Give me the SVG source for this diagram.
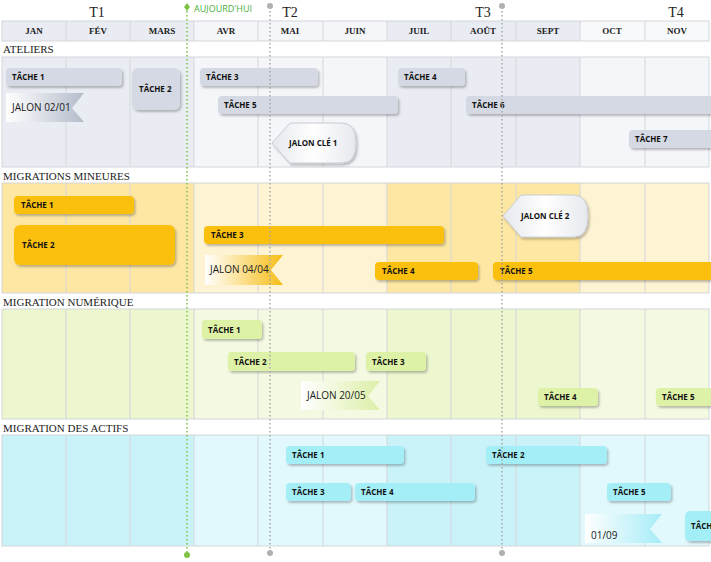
<svg xmlns="http://www.w3.org/2000/svg" width="711" height="562" viewBox="0 0 711 562">
<defs>
<filter id="sh" x="-10%" y="-20%" width="130%" height="160%"><feDropShadow dx="1.5" dy="2" stdDeviation="1.2" flood-color="#000" flood-opacity="0.25"/></filter>
<linearGradient id="gA" x1="0" x2="1"><stop offset="0" stop-color="#fff"/><stop offset="1" stop-color="#b4bccb"/></linearGradient>
<linearGradient id="gM" x1="0" x2="1"><stop offset="0" stop-color="#fff"/><stop offset="1" stop-color="#f6bd16"/></linearGradient>
<linearGradient id="gN" x1="0" x2="1"><stop offset="0" stop-color="#fff"/><stop offset="1" stop-color="#dcefa8"/></linearGradient>
<linearGradient id="gC" x1="0" x2="1"><stop offset="0" stop-color="#fff"/><stop offset="1" stop-color="#a6ecf7"/></linearGradient>
<linearGradient id="gK" x1="0" x2="1"><stop offset="0" stop-color="#e6e8ee"/><stop offset="0.5" stop-color="#fff"/><stop offset="1" stop-color="#e6e8ee"/></linearGradient>
</defs>
<style>
.q{font-family:"Liberation Serif",serif;font-size:14px;fill:#222}
.m{font-family:"Liberation Serif",serif;font-size:9px;font-weight:bold;fill:#222}
.l{font-family:"Liberation Serif",serif;font-size:11px;fill:#222}
.t{font-family:"Open Sans",sans-serif;font-size:8px;font-weight:bold;fill:#111}
.j{font-family:"Open Sans",sans-serif;font-size:10px;fill:#222}
.g{stroke:#d4d6da;stroke-width:1}
.a{fill:#d5d9e3}.mm{fill:#fbbf0a}.n{fill:#ddf2a6}.c{fill:#a4eef8}
</style>
<rect width="711" height="562" fill="#fff"/>
<g id="header">
<text class="q" x="97" y="17" text-anchor="middle">T1</text>
<text class="q" x="290" y="17" text-anchor="middle">T2</text>
<text class="q" x="483" y="17" text-anchor="middle">T3</text>
<text class="q" x="676" y="17" text-anchor="middle">T4</text>
<rect x="2" y="21" width="192" height="20" fill="#e9ecf3"/>
<rect x="194" y="21" width="193" height="20" fill="#f5f6fa"/>
<rect x="387" y="21" width="193" height="20" fill="#e9ecf3"/>
<rect x="580" y="21" width="129" height="20" fill="#f8f9fb"/>
<rect x="2" y="21" width="707" height="20" fill="none" stroke="#d4d6da"/>
<g class="g"><line x1="66" y1="21" x2="66" y2="41"/><line x1="130" y1="21" x2="130" y2="41"/><line x1="194" y1="21" x2="194" y2="41"/><line x1="258" y1="21" x2="258" y2="41"/><line x1="323" y1="21" x2="323" y2="41"/><line x1="387" y1="21" x2="387" y2="41"/><line x1="451" y1="21" x2="451" y2="41"/><line x1="516" y1="21" x2="516" y2="41"/><line x1="580" y1="21" x2="580" y2="41"/><line x1="645" y1="21" x2="645" y2="41"/></g>
<g text-anchor="middle"><text class="m" x="34" y="34">JAN</text><text class="m" x="98" y="34">FÉV</text><text class="m" x="162" y="34">MARS</text><text class="m" x="226" y="34">AVR</text><text class="m" x="290" y="34">MAI</text><text class="m" x="355" y="34">JUIN</text><text class="m" x="419" y="34">JUIL</text><text class="m" x="483" y="34">AOÛT</text><text class="m" x="548" y="34">SEPT</text><text class="m" x="612" y="34">OCT</text><text class="m" x="677" y="34">NOV</text></g>
</g>
<g id="lanes">
<text class="l" x="3" y="53">ATELIERS</text>
<rect x="2" y="57" width="192" height="110" fill="#e9ecf3"/><rect x="194" y="57" width="193" height="110" fill="#f5f6fa"/><rect x="387" y="57" width="193" height="110" fill="#e9ecf3"/><rect x="580" y="57" width="129" height="110" fill="#f5f6fa"/>
<text class="l" x="3" y="180">MIGRATIONS MINEURES</text>
<rect x="2" y="183" width="192" height="110" fill="#fde7a3"/><rect x="194" y="183" width="193" height="110" fill="#fef3d2"/><rect x="387" y="183" width="193" height="110" fill="#fde7a3"/><rect x="580" y="183" width="129" height="110" fill="#fef3d2"/>
<text class="l" x="3" y="306">MIGRATION NUMÉRIQUE</text>
<rect x="2" y="309" width="192" height="110" fill="#ecf6cf"/><rect x="194" y="309" width="193" height="110" fill="#f4fae2"/><rect x="387" y="309" width="193" height="110" fill="#ecf6cf"/><rect x="580" y="309" width="129" height="110" fill="#f4fae2"/>
<text class="l" x="3" y="432">MIGRATION DES ACTIFS</text>
<rect x="2" y="435" width="192" height="111" fill="#c9f3f9"/><rect x="194" y="435" width="193" height="111" fill="#e1f9fc"/><rect x="387" y="435" width="193" height="111" fill="#c9f3f9"/><rect x="580" y="435" width="129" height="111" fill="#e1f9fc"/>
<g fill="none" stroke="#d4d6da"><rect x="2" y="57" width="707" height="110"/><rect x="2" y="183" width="707" height="110"/><rect x="2" y="309" width="707" height="110"/><rect x="2" y="435" width="707" height="111"/></g>
<g class="g">
<path d="M66 57V167M130 57V167M194 57V167M258 57V167M323 57V167M387 57V167M451 57V167M516 57V167M580 57V167M645 57V167"/>
<path d="M66 183V293M130 183V293M194 183V293M258 183V293M323 183V293M387 183V293M451 183V293M516 183V293M580 183V293M645 183V293"/>
<path d="M66 309V419M130 309V419M194 309V419M258 309V419M323 309V419M387 309V419M451 309V419M516 309V419M580 309V419M645 309V419"/>
<path d="M66 435V546M130 435V546M194 435V546M258 435V546M323 435V546M387 435V546M451 435V546M516 435V546M580 435V546M645 435V546"/>
</g>
</g>
<g id="ateliers">
<g filter="url(#sh)" class="a">
<rect x="6" y="68" width="116" height="18" rx="4"/><rect x="132" y="68" width="48" height="42" rx="6"/><rect x="200" y="68" width="118" height="18" rx="4"/><rect x="398" y="68" width="67" height="18" rx="4"/><rect x="218" y="96" width="180" height="18" rx="4"/><rect x="466" y="96" width="250" height="18" rx="4"/><rect x="629" y="130" width="90" height="18" rx="4"/>
</g>
<text class="t" x="12" y="80">TÂCHE 1</text><text class="t" x="139" y="92">TÂCHE 2</text><text class="t" x="206" y="80">TÂCHE 3</text><text class="t" x="404" y="80">TÂCHE 4</text><text class="t" x="224" y="108">TÂCHE 5</text><text class="t" x="472" y="108">TÂCHE 6</text><text class="t" x="635" y="142">TÂCHE 7</text>
<path d="M6 93H84L72 108L84 122H6Z" fill="url(#gA)"/><text class="j" x="12" y="111">JALON 02/01</text>
<path d="M272 143L290 123H342Q356 123 356 143Q356 163 342 163H290Z" fill="url(#gK)" stroke="#c8ccd4" filter="url(#sh)"/><text class="t" x="289" y="146">JALON CLÉ 1</text>
</g>
<g id="mineures">
<g filter="url(#sh)" class="mm">
<rect x="14" y="196" width="120" height="18" rx="4"/><rect x="14" y="225" width="161" height="40" rx="6"/><rect x="204" y="226" width="240" height="18" rx="4"/><rect x="375" y="262" width="103" height="18" rx="4"/><rect x="493" y="262" width="230" height="18" rx="4"/>
</g>
<text class="t" x="21" y="208">TÂCHE 1</text><text class="t" x="22" y="248">TÂCHE 2</text><text class="t" x="211" y="238">TÂCHE 3</text><text class="t" x="382" y="274">TÂCHE 4</text><text class="t" x="500" y="274">TÂCHE 5</text>
<path d="M205 255H283L271 270L283 285H205Z" fill="url(#gM)"/><text class="j" x="210" y="273">JALON 04/04</text>
<path d="M503 216L521 195H574Q588 195 588 216Q588 237 574 237H521Z" fill="url(#gK)" stroke="#c8ccd4" filter="url(#sh)"/><text class="t" x="521" y="219">JALON CLÉ 2</text>
</g>
<g id="numerique">
<g filter="url(#sh)" class="n">
<rect x="202" y="320" width="60" height="19" rx="4"/><rect x="228" y="352" width="127" height="19" rx="4"/><rect x="366" y="352" width="60" height="19" rx="4"/><rect x="538" y="388" width="60" height="18" rx="4"/><rect x="656" y="388" width="60" height="18" rx="4"/>
</g>
<text class="t" x="208" y="333">TÂCHE 1</text><text class="t" x="234" y="365">TÂCHE 2</text><text class="t" x="372" y="365">TÂCHE 3</text><text class="t" x="544" y="400">TÂCHE 4</text><text class="t" x="662" y="400">TÂCHE 5</text>
<path d="M301 381H380L368 396L380 410H301Z" fill="url(#gN)"/><text class="j" x="307" y="399">JALON 20/05</text>
</g>
<g id="actifs">
<g filter="url(#sh)" class="c">
<rect x="286" y="446" width="118" height="18" rx="4"/><rect x="486" y="446" width="121" height="18" rx="4"/><rect x="286" y="483" width="65" height="18" rx="4"/><rect x="355" y="483" width="120" height="18" rx="4"/><rect x="607" y="483" width="64" height="18" rx="4"/><rect x="685" y="511" width="40" height="30" rx="5"/>
</g>
<text class="t" x="292" y="458">TÂCHE 1</text><text class="t" x="492" y="458">TÂCHE 2</text><text class="t" x="292" y="495">TÂCHE 3</text><text class="t" x="361" y="495">TÂCHE 4</text><text class="t" x="613" y="495">TÂCHE 5</text><text class="t" x="691" y="529">TÂCHE 6</text>
<path d="M585 514H662L650 529L662 543H585Z" fill="url(#gC)"/><text class="j" x="591" y="539">01/09</text>
</g>
<g id="connectors">
<line x1="187" y1="7" x2="187" y2="555" stroke="#7dc243" stroke-width="1.5" stroke-dasharray="1.5 2.5"/>
<path d="M187 3L190 7L187 11L184 7Z" fill="#7dc243"/><circle cx="187" cy="555" r="3" fill="#7dc243"/>
<text x="194" y="12" font-family="Open Sans,sans-serif" font-size="9" fill="#4caf3e">AUJOURD'HUI</text>
<line x1="270" y1="7" x2="270" y2="553" stroke="#a8a8a8" stroke-width="1.5" stroke-dasharray="1.5 2.5"/>
<circle cx="270" cy="6" r="3" fill="#b0b0b0"/><circle cx="270" cy="553" r="3" fill="#b0b0b0"/>
<line x1="502" y1="7" x2="502" y2="553" stroke="#a8a8a8" stroke-width="1.5" stroke-dasharray="1.5 2.5"/>
<circle cx="502" cy="6" r="3" fill="#b0b0b0"/><circle cx="502" cy="553" r="3" fill="#b0b0b0"/>
</g>
</svg>
